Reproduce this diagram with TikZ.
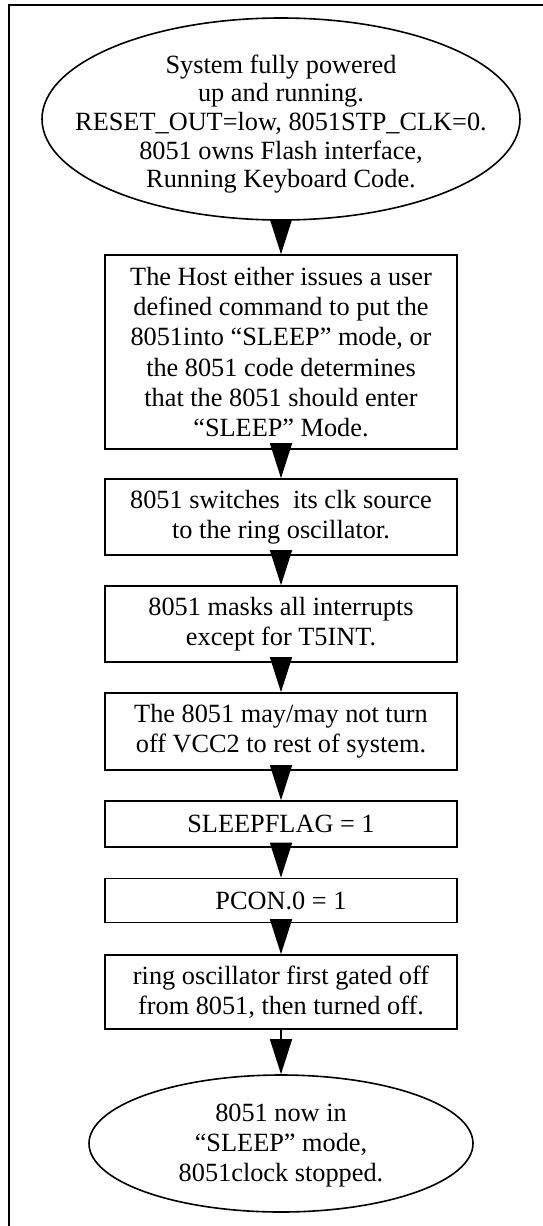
\documentclass[tikz,border=0pt]{standalone}
\usepackage{fontspec}
\setmainfont{Liberation Serif}
\usetikzlibrary{shapes.geometric,arrows.meta,positioning}
\begin{document}
\begin{tikzpicture}[x=1pt,y=1pt,
  every node/.style={font=\fontsize{26.3pt}{30.3pt}\selectfont, inner sep=0pt, align=center},
  stepbox/.style={draw, line width=1.6pt, rectangle, minimum width=352pt},
  oval/.style={draw, line width=1.6pt, ellipse},
  flow/.style={line width=1.4pt, -{Triangle[length=35pt,width=22pt]}}
]
\useasboundingbox (0,0) rectangle (543,-1226);
% frame
\draw[line width=1.8pt] (9,-1230) -- (9,-5) -- (550,-5);

\node[oval, minimum width=478pt, minimum height=202pt] (start) at (281,-119) {};
\node[font=\fontsize{26.3pt}{28.6pt}\selectfont] (starttext) at ([yshift=-5pt]start.center)
  {System fully powered\\up and running.\\RESET\_OUT=low, 8051STP\_CLK=0.\\8051 owns Flash interface,\\Running Keyboard Code.};

\node[stepbox, minimum height=194pt] (host) at (281,-352)
  {The Host either issues a user\\defined command to put the\\8051into “SLEEP” mode, or\\the 8051 code determines\\that the 8051 should enter\\“SLEEP” Mode.};

\node[stepbox, minimum height=76pt] (clk) at (281,-517)
  {8051 switches\ \ its clk source\\to the ring oscillator.};

\node[stepbox, minimum height=76pt] (mask) at (281,-624)
  {8051 masks all interrupts\\except for T5INT.};

\node[stepbox, minimum height=77pt] (vcc) at (281,-731.5)
  {The 8051 may/may not turn\\off VCC2 to rest of system.};

\node[stepbox, minimum height=46pt] (flag) at (281,-824)
  {SLEEPFLAG = 1};

\node[stepbox, minimum height=44pt] (pcon) at (281,-900.5)
  {PCON.0 = 1};

\node[stepbox, minimum height=74pt] (ring) at (281,-992)
  {ring oscillator first gated off\\from 8051, then turned off.};

\node[oval, minimum width=384pt, minimum height=137pt] (done) at (281,-1143.5) {};
\node (donetext) at ([yshift=-2pt]done.center)
  {8051 now in\\“SLEEP” mode,\\8051clock stopped.};

\draw[flow] (start.south) -- (host.north);
\draw[flow] (host.south) -- (clk.north);
\draw[flow] (clk.south) -- (mask.north);
\draw[flow] (mask.south) -- (vcc.north);
\draw[flow] (vcc.south) -- (flag.north);
\draw[flow] (flag.south) -- (pcon.north);
\draw[flow] (pcon.south) -- (ring.north);
\draw[flow] (ring.south) -- (done.north);
\end{tikzpicture}
\end{document}
